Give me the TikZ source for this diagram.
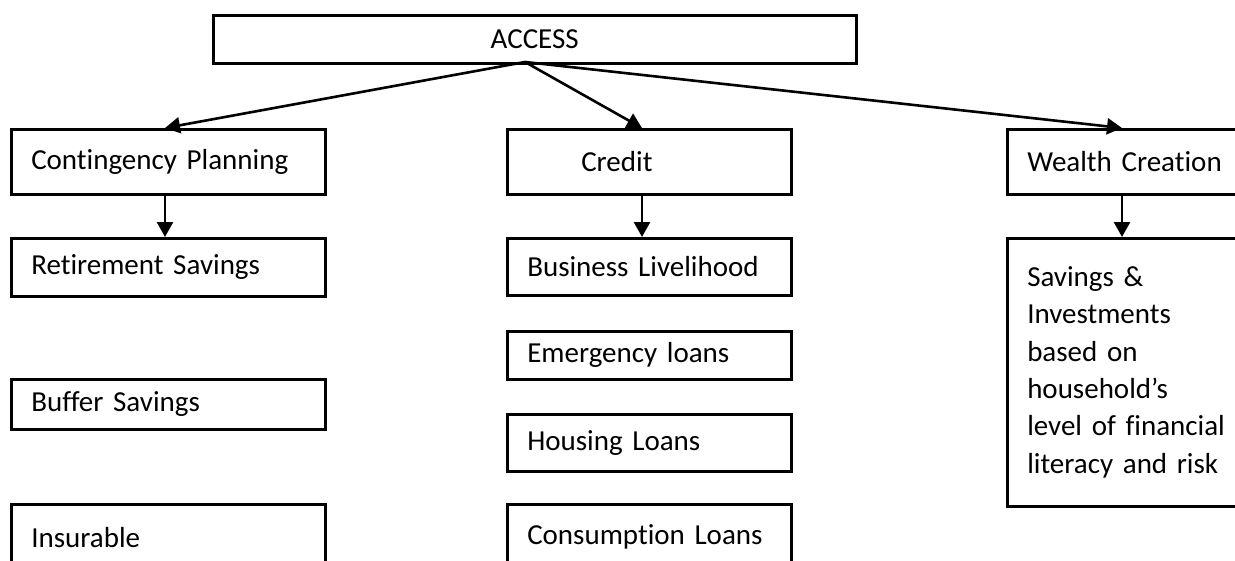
\documentclass[tikz,border=0pt]{standalone}
\usepackage{fontspec}
\setmainfont{Carlito}[Ligatures={NoCommon}]
\usetikzlibrary{arrows.meta,calc}
\tikzset{
  box/.style={draw, line width=2.5pt, anchor=north west, align=left, inner xsep=20pt, inner ysep=0pt, font=\fontsize{29}{37.4}\selectfont},
  link/.style={line width=2.6pt, -{Triangle[length=15pt,width=16pt]}}
}
\begin{document}
\begin{tikzpicture}[x=1pt,y=-1pt]
    \clip (0,0) rectangle (1235,560);
    \node [box, text width=603pt, minimum height=48pt, align=center] (access) at (212,14) {ACCESS};
    \node [box, text width=274pt, minimum height=65pt] (plan) at (10,128) {Contingency Planning};
    \node [box, text width=244pt, minimum height=65pt] (credit) at (506,128) {\hspace*{54pt}Credit};
    \node [box, text width=220pt, minimum height=65pt] (wealth) at (1006,128) {Wealth Creation};
    \node [box, text width=274pt, minimum height=58pt] (retire) at (10,237) {Retirement Savings};
    \node [box, text width=274pt, minimum height=50pt] (buffer) at (10,378) {Buffer Savings};
    \node [box, text width=274pt, minimum height=66pt] (insure) at (10,503) {Insurable};
    \node [box, text width=244pt, minimum height=57pt] (business) at (506,237) {Business Livelihood};
    \node [box, text width=244pt, minimum height=48pt] (emergency) at (506,330) {Emergency loans};
    \node [box, text width=244pt, minimum height=57pt] (housing) at (506,413) {Housing Loans};
    \node [box, text width=244pt, minimum height=66pt] (consume) at (506,503) {Consumption Loans};
    \node [box, text width=220pt, minimum height=268pt] (savings) at (1006,237) {Savings \&\\Investments\\based on\\household’s\\level of financial\\literacy and risk};
    \coordinate (hub) at (525,62);
    \draw [link] (hub) -- ($(plan.north west)+(155,0)$);
    \draw [link] (hub) -- ($(credit.north west)+(136,0)$);
    \draw [link] (hub) -- ($(wealth.north west)+(116,0)$);
    \draw [link] ($(plan.south west)+(155,0)$) -- ($(retire.north west)+(155,0)$);
    \draw [link] ($(credit.south west)+(136,0)$) -- ($(business.north west)+(136,0)$);
    \draw [link] ($(wealth.south west)+(116,0)$) -- ($(savings.north west)+(116,0)$);
  \end{tikzpicture}
\end{document}
